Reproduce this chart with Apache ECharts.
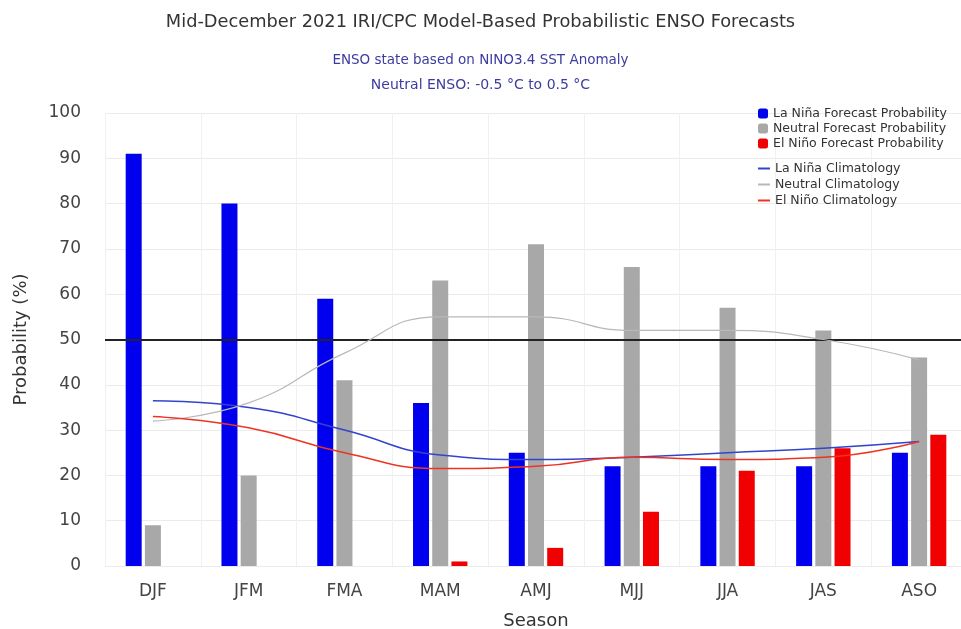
<!DOCTYPE html>
<html><head><meta charset="utf-8">
<script src="https://cdn.jsdelivr.net/npm/echarts@6/dist/echarts.min.js"></script>
<style>html,body{margin:0;padding:0;background:#fff}#c{width:961px;height:629px}</style>
</head><body><div id="c"></div>
<script>
const seasons = ['DJF','JFM','FMA','MAM','AMJ','MJJ','JJA','JAS','ASO'];
const yTicks = [0,10,20,30,40,50,60,70,80,90,100];
const laNina = [91,80,59,36,25,22,22,22,25];
const neutral = [9,20,41,63,71,66,57,52,46];
const elNino = [0,0,0,1,4,12,21,26,29];
const laNinaClim = [36.5,35,30,24.5,23.5,24,25,26,27.5];
const neutralClim = [32,36,47,55,55,52,52,50,45.5];
const elNinoClim = [33,30.5,25,21.5,22,24,23.5,24,27.5];
const threshold = 50;

const chart = echarts.init(document.getElementById('c'));
chart.setOption({
  animation:false,
  backgroundColor:'#fff',
  title:[
    {text:'Mid-December 2021 IRI/CPC Model-Based Probabilistic ENSO Forecasts',left:'center',top:8,
     textStyle:{fontSize:17.8,fontWeight:'normal',color:'#333',fontFamily:'DejaVu Sans'}},
    {text:'ENSO state based on NINO3.4 SST Anomaly',left:'center',top:48,
     textStyle:{fontSize:13.5,fontWeight:'normal',color:'#3c3ca0',fontFamily:'DejaVu Sans'}},
    {text:'Neutral ENSO: -0.5 °C to 0.5 °C',left:'center',top:73,
     textStyle:{fontSize:14,fontWeight:'normal',color:'#3c3ca0',fontFamily:'DejaVu Sans'}}
  ],
  legend:[
    {data:['La Niña Forecast Probability','Neutral Forecast Probability','El Niño Forecast Probability'],
     orient:'vertical',left:753,top:102,itemWidth:10,itemHeight:10,itemGap:2,
     textStyle:{fontSize:12.5,lineHeight:12,color:'#333',fontFamily:'DejaVu Sans'}},
    {data:['La Niña Climatology','Neutral Climatology','El Niño Climatology'],
     orient:'vertical',left:753,top:157,itemWidth:12,itemHeight:2,itemGap:3,
     icon:'rect',
     textStyle:{fontSize:12.5,lineHeight:12,color:'#333',fontFamily:'DejaVu Sans'}}
  ],
  grid:{left:105,top:113,width:862,bottom:63,outerBoundsMode:'none',containLabel:false},
  xAxis:{type:'category',data:seasons,
    name:'Season',nameLocation:'middle',nameGap:46,
    nameTextStyle:{fontSize:18,color:'#333',fontFamily:'DejaVu Sans'},
    axisLine:{show:false},axisTick:{show:false},
    axisLabel:{fontSize:17,color:'#444',margin:17,fontFamily:'DejaVu Sans'},
    splitLine:{show:true,lineStyle:{color:'#f0f0f0'}}},
  yAxis:{type:'value',min:0,max:100,interval:10,
    name:'Probability (%)',nameLocation:'middle',nameGap:75,
    nameTextStyle:{fontSize:18,color:'#333',fontFamily:'DejaVu Sans'},
    axisLine:{show:false},axisTick:{show:false},
    axisLabel:{fontSize:17,color:'#444',margin:24,fontFamily:'DejaVu Sans',
      formatter:v=>yTicks.includes(v)?String(v):''},
    splitLine:{lineStyle:{color:'#ebebeb'}}},
  series:[
    {name:'La Niña Forecast Probability',type:'bar',data:laNina,barWidth:16,barGap:'20%',
     itemStyle:{color:'#0000ee'},
     markLine:{silent:true,symbol:'none',label:{show:false},
       lineStyle:{color:'#222',width:2,type:'solid'},data:[{yAxis:threshold}]}},
    {name:'Neutral Forecast Probability',type:'bar',data:neutral,barWidth:16,barGap:'20%',itemStyle:{color:'#a8a8a8'}},
    {name:'El Niño Forecast Probability',type:'bar',data:elNino,barWidth:16,barGap:'20%',itemStyle:{color:'#f00000'}},
    {name:'La Niña Climatology',type:'line',data:laNinaClim,smooth:true,showSymbol:false,
     lineStyle:{color:'#3344cc',width:1.5},itemStyle:{color:'#3344cc'},z:5},
    {name:'Neutral Climatology',type:'line',data:neutralClim,smooth:true,showSymbol:false,
     lineStyle:{color:'#b8b8b8',width:1.2},itemStyle:{color:'#b8b8b8'},z:5},
    {name:'El Niño Climatology',type:'line',data:elNinoClim,smooth:true,showSymbol:false,
     lineStyle:{color:'#ee3322',width:1.5},itemStyle:{color:'#ee3322'},z:5}
  ]
});
</script></body></html>
